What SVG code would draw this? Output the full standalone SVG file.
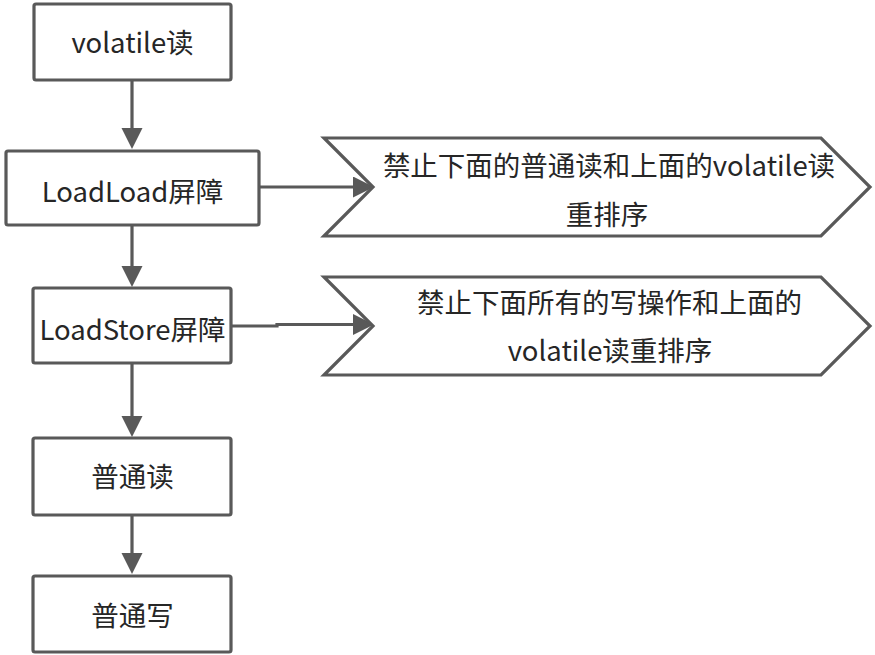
<svg xmlns="http://www.w3.org/2000/svg" width="875" height="655" viewBox="0 0 875 655">
<style>
.box{fill:#fff;stroke:#595959;stroke-width:3.2}
.lbl{font-family:"Noto Sans CJK SC","Noto Sans",sans-serif;font-size:27.5px;fill:#262626;text-anchor:middle}
.ln{fill:none;stroke:#595959;stroke-width:3.2}
</style>
<defs>
<marker id="ah" markerUnits="userSpaceOnUse" markerWidth="22" markerHeight="22" refX="0" refY="10.5" orient="auto">
<path d="M0,0 L21,10.5 L0,21 Z" fill="#595959"/>
</marker>
</defs>
<rect width="875" height="655" fill="#fff"/>
<g id="connectors">
<path class="ln" d="M132,80 V128" marker-end="url(#ah)"/>
<path class="ln" d="M132,225 V266" marker-end="url(#ah)"/>
<path class="ln" d="M132,363 V416" marker-end="url(#ah)"/>
<path class="ln" d="M132,515 V553" marker-end="url(#ah)"/>
<path class="ln" d="M259,187 H353" marker-end="url(#ah)"/>
<path class="ln" d="M231,326 H277 V324.5 H353" marker-end="url(#ah)"/>
</g>
<g id="n1">
<rect class="box" x="34" y="4" width="197" height="76" rx="2"/>
<text class="lbl" x="132.5" y="53">volatile读</text>
</g>
<g id="n2">
<rect class="box" x="6" y="151" width="253" height="74" rx="2"/>
<text class="lbl" x="132.5" y="202">LoadLoad屏障</text>
</g>
<g id="n3">
<rect class="box" x="33" y="288" width="198" height="75" rx="2"/>
<text class="lbl" x="132.5" y="339.5">LoadStore屏障</text>
</g>
<g id="n4">
<rect class="box" x="33" y="438" width="198" height="77" rx="2"/>
<text class="lbl" x="132.5" y="487">普通读</text>
</g>
<g id="n5">
<rect class="box" x="33" y="576" width="198" height="76" rx="2"/>
<text class="lbl" x="132.5" y="625.5">普通写</text>
</g>
<g id="c1">
<polygon class="box" points="324,138 821,138 870,187 821,236 324,236 373,187"/>
<text class="lbl" x="609" y="175.5">禁止下面的普通读和上面的volatile读</text>
<text class="lbl" x="607" y="224.5">重排序</text>
</g>
<g id="c2">
<polygon class="box" points="324,277 821,277 870,326 821,375 324,375 373,326"/>
<text class="lbl" x="609.5" y="312.5">禁止下面所有的写操作和上面的</text>
<text class="lbl" x="610" y="360.5">volatile读重排序</text>
</g>
</svg>
